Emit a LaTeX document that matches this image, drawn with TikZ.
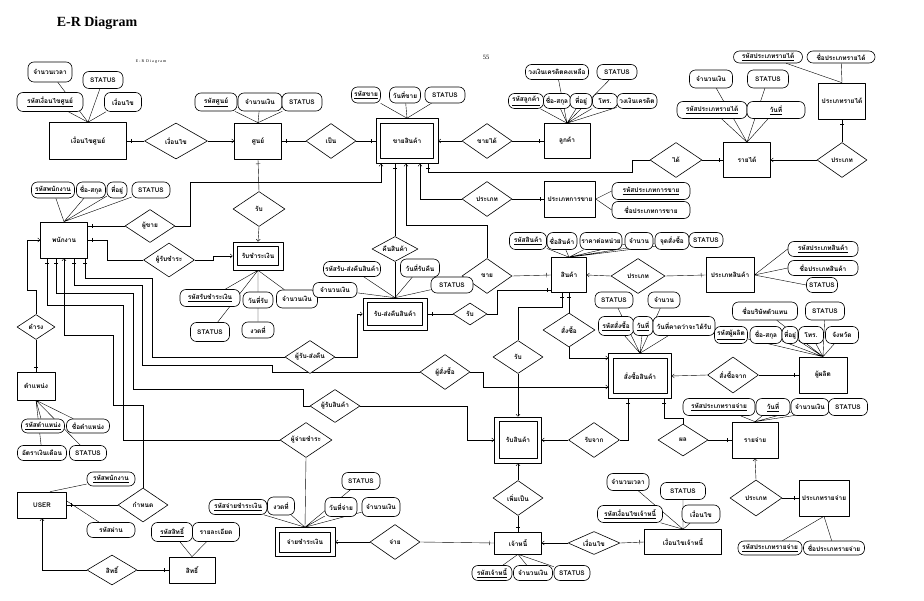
\documentclass[tikz,border=0pt]{standalone}
\usepackage{fontspec}
\usetikzlibrary{shapes.geometric,arrows.meta,decorations.markings}
\newfontfamily\thaifont[Script=Thai]{Loma}
\newfontfamily\titlefont{Liberation Serif}
\newcommand{\erfont}{\thaifont\bfseries\fontsize{6.5}{7}\selectfont}
\newcommand{\rlab}[1]{\makebox[0pt]{#1}}
\newcommand{\key}[1]{\underline{#1}}
\newcommand{\weakin}[1]{\draw ([shift={(5pt,5pt)}]#1.south west) rectangle ([shift={(-5pt,-5pt)}]#1.north east);}
\pgfdeclarelayer{lines}
\pgfsetlayers{lines,main}
\tikzset{
  ent/.style 2 args={draw,fill=white,rectangle,minimum width=#1pt,minimum height=#2pt,inner sep=1pt,font=\erfont},
  attr/.style 2 args={draw,fill=white,rounded corners=6pt,minimum width=#1pt,minimum height=#2pt,inner sep=1pt,font=\erfont},
  rel/.style 2 args={draw,fill=white,diamond,minimum width=#1pt,minimum height=#2pt,inner sep=0pt,font=\erfont},
  tk/.style={postaction={decorate,decoration={markings,mark=at position 1 with {\draw (-4.5pt,-2.2pt) -- (-4.5pt,2.2pt);}}}},
  ar/.style={-{Straight Barb[length=2.2pt,width=4pt]}},
}
\begin{document}
\begin{tikzpicture}[x=1pt,y=-1pt,line width=0.6pt,line cap=round,line join=round]
  \useasboundingbox (0,0) rectangle (924,601);
  % heading
  \node[font=\titlefont\bfseries\fontsize{14}{16}\selectfont] (title) at (97,23) {E-R Diagram};
  \node[font=\titlefont\fontsize{4}{5}\selectfont] (subtitle) at (151,62) {E - R \ D i a g r a m};
  \node[font=\titlefont\fontsize{6.5}{7}\selectfont] (pageno) at (486,57) {55};

  % entities
  \node[ent={77}{37}] (condC) at (88,141) {เงื่อนไขศูนย์};
  \node[ent={47}{36}] (center) at (258,141) {ศูนย์};
  \node[ent={62}{45}] (sale) at (407,141) {ขายสินค้า};
  \node[ent={46}{35}] (cust) at (567,141) {ลูกค้า};
  \node[ent={47}{35}] (income) at (747,160) {รายได้};
  \node[ent={47}{36}] (inctype) at (842,101) {ประเภทรายได้};
  \node[ent={51}{36}] (saletype) at (570,199) {ประเภทการขาย};
  \node[ent={47}{36}] (emp) at (64,240) {พนักงาน};
  \node[ent={50}{28}] (pay) at (258,256) {รับชำระเงิน};
  \node[ent={38}{28}] (pos) at (36,386) {ตำแหน่ง};
  \node[ent={49}{26}] (user) at (42,505) {USER};
  \node[ent={46}{26}] (perm) at (192,570) {สิทธิ์};
  \node[ent={64}{32}] (ret) at (395,314) {รับ-ส่งคืนสินค้า};
  \node[ent={35}{35}] (prod) at (569,275) {สินค้า};
  \node[ent={48}{35}] (prodtype) at (730,275) {ประเภทสินค้า};
  \node[ent={63}{45}] (order) at (640,376) {สั่งซื้อสินค้า};
  \node[ent={48}{36}] (supp) at (823,375) {ผู้ผลิต};
  \node[ent={47}{46}] (recv) at (518,440) {รับสินค้า};
  \node[ent={47}{22}] (cred) at (518,543) {เจ้าหนี้};
  \node[ent={77}{25}] (condCr) at (683,542) {เงื่อนไขเจ้าหนี้};
  \node[ent={60}{29}] (paid) at (305,542) {จ่ายชำระเงิน};
  \node[ent={46}{36}] (exp) at (755,440) {รายจ่าย};
  \node[ent={50}{36}] (exptype) at (824,498) {ประเภทรายจ่าย};
  % weak entities: inner frame
  \weakin{sale}
  \weakin{pay}
  \weakin{ret}
  \weakin{order}
  \weakin{recv}
  \weakin{paid}

  % relationships
  \node[rel={63}{36}] (rCond) at (176,141) {\rlab{เงื่อนไข}};
  \node[rel={50}{35}] (rIs) at (331,141) {\rlab{เป็น}};
  \node[rel={50}{35}] (rSold) at (487,141) {\rlab{ขายได้}};
  \node[rel={52}{35}] (rGot) at (676,160) {\rlab{ได้}};
  \node[rel={50}{35}] (rIncType) at (842,160) {\rlab{ประเภท}};
  \node[rel={50}{35}] (rSaleType) at (487,199) {\rlab{ประเภท}};
  \node[rel={50}{33}] (rSeller) at (150,226) {\rlab{ผู้ขาย}};
  \node[rel={52}{35}] (rRecvC) at (259,209) {\rlab{รับ}};
  \node[rel={51}{34}] (rPayer) at (169,260) {\rlab{ผู้รับชำระ}};
  \node[rel={38}{25}] (rHold) at (36,327) {\rlab{ดำรง}};
  \node[rel={50}{34}] (rAssign) at (143,505) {\rlab{กำหนด}};
  \node[rel={50}{30}] (rRight) at (112,570) {\rlab{สิทธิ์}};
  \node[rel={46}{25}] (rReturn) at (395,249) {\rlab{คืนสินค้า}};
  \node[rel={50}{33}] (rRetBy) at (310,357) {\rlab{ผู้รับ-ส่งคืน}};
  \node[rel={34}{22}] (rRetPro) at (470,314) {\rlab{รับ}};
  \node[rel={50}{35}] (rSell) at (487,276) {\rlab{ขาย}};
  \node[rel={54}{35}] (rProdType) at (638,276) {\rlab{ประเภท}};
  \node[rel={52}{34}] (rOrd) at (569,330) {\rlab{สั่งซื้อ}};
  \node[rel={50}{33}] (rRecvP) at (518,357) {\rlab{รับ}};
  \node[rel={50}{35}] (rOrdBy) at (445,372) {\rlab{ผู้สั่งซื้อ}};
  \node[rel={51}{36}] (rOrdFrom) at (733,375) {\rlab{สั่งซื้อจาก}};
  \node[rel={50}{33}] (rRecvBy) at (335,406) {\rlab{ผู้รับสินค้า}};
  \node[rel={52}{35}] (rPayBy) at (306,440) {\rlab{ผู้จ่ายชำระ}};
  \node[rel={51}{35}] (rRecvFrom) at (594,440) {\rlab{รับจาก}};
  \node[rel={50}{35}] (rBecome) at (518,498) {\rlab{เพิ่มเป็น}};
  \node[rel={52}{23}] (rCondCr) at (594,543) {\rlab{เงื่อนไข}};
  \node[rel={50}{35}] (rPayTo) at (395,542) {\rlab{จ่าย}};
  \node[rel={50}{32}] (rExp) at (683,440) {\rlab{ผล}};
  \node[rel={52}{36}] (rExpType) at (756,498) {\rlab{ประเภท}};

  % attributes
  \node[attr={44}{20}] (cTime) at (50,72) {จำนวนเวลา};
  \node[attr={40}{17}] (cStat) at (103,80) {STATUS};
  \node[attr={66}{19}] (cId) at (50,102) {\key{รหัสเงื่อนไขศูนย์}};
  \node[attr={37}{19}] (cCond) at (123,102) {เงื่อนไข};
  \node[attr={42}{18}] (nId) at (216,102) {\key{รหัสศูนย์}};
  \node[attr={44}{18}] (nAmt) at (260,102) {จำนวนเงิน};
  \node[attr={40}{18}] (nStat) at (302,102) {STATUS};
  \node[attr={29}{16}] (sId) at (366,95) {\key{รหัสขาย}};
  \node[attr={31}{16}] (sDate) at (405,95) {วันที่ขาย};
  \node[attr={40}{16}] (sStat) at (445,95) {STATUS};
  \node[attr={63}{15}] (uLeft) at (557,72) {วงเงินเครดิตคงเหลือ};
  \node[attr={40}{15}] (uStat) at (617,72) {STATUS};
  \node[attr={35}{15}] (uId) at (526,101) {\key{รหัสลูกค้า}};
  \node[attr={27}{15}] (uName) at (557,101) {ชื่อ-สกุล};
  \node[attr={22}{15}] (uAddr) at (581,101) {ที่อยู่};
  \node[attr={25}{15}] (uTel) at (605,101) {โทร.};
  \node[attr={40}{15}] (uLimit) at (637,101) {วงเงินเครดิต};
  \node[attr={43}{18}] (iAmt) at (711,79) {จำนวนเงิน};
  \node[attr={41}{18}] (iStat) at (768,79) {STATUS};
  \node[attr={70}{17}] (iType) at (712,110) {\key{รหัสประเภทรายได้}};
  \node[attr={58}{17}] (iDate) at (776,110) {\key{วันที่}};
  \node[attr={69}{12}] (tId) at (768,57) {\key{รหัสประเภทรายได้}};
  \node[attr={68}{12}] (tName) at (841,57) {ชื่อประเภทรายได้};
  \node[attr={78}{17}] (yId) at (651,191) {\key{รหัสประเภทการขาย}};
  \node[attr={78}{17}] (yName) at (651,210) {ชื่อประเภทการขาย};
  \node[attr={43}{16}] (eId) at (53,190) {\key{รหัสพนักงาน}};
  \node[attr={29}{16}] (eName) at (91,190) {ชื่อ-สกุล};
  \node[attr={20}{16}] (eAddr) at (117,190) {ที่อยู่};
  \node[attr={38}{16}] (eStat) at (151,190) {STATUS};
  \node[attr={60}{17}] (pId) at (210,298) {\key{รหัสรับชำระเงิน}};
  \node[attr={30}{16}] (pDate) at (258,300) {วันที่รับ};
  \node[attr={41}{18}] (pAmt) at (297,299) {จำนวนเงิน};
  \node[attr={39}{19}] (pStat) at (210,332) {STATUS};
  \node[attr={32}{16}] (pTerm) at (258,330) {งวดที่};
  \node[attr={43}{14}] (oId) at (43,426) {\key{รหัสตำแหน่ง}};
  \node[attr={43}{14}] (oName) at (88,426) {ชื่อตำแหน่ง};
  \node[attr={49}{15}] (oSal) at (42,453) {อัตราเงินเดือน};
  \node[attr={37}{15}] (oStat) at (88,453) {STATUS};
  \node[attr={48}{14}] (usEmp) at (111,479) {\key{รหัสพนักงาน}};
  \node[attr={48}{15}] (usPass) at (111,530) {รหัสผ่าน};
  \node[attr={41}{19}] (mId) at (172,532) {\key{รหัสสิทธิ์}};
  \node[attr={47}{19}] (mDesc) at (216,532) {รายละเอียด};
  \node[attr={57}{15}] (rId) at (352,269) {รหัสรับ-ส่งคืนสินค้า};
  \node[attr={39}{18}] (rDate) at (420,268) {วันที่รับคืน};
  \node[attr={42}{16}] (rStat) at (452,285) {STATUS};
  \node[attr={44}{15}] (rAmt) at (335,290) {จำนวนเงิน};
  \node[attr={37}{17}] (dId) at (528,241) {\key{รหัสสินค้า}};
  \node[attr={30}{17}] (dName) at (562,241) {ชื่อสินค้า};
  \node[attr={42}{17}] (dPrice) at (601,241) {ราคาต่อหน่วย};
  \node[attr={28}{17}] (dQty) at (639,241) {จำนวน};
  \node[attr={34}{17}] (dPoint) at (672,241) {จุดสั่งซื้อ};
  \node[attr={34}{15}] (dStat) at (706,240) {STATUS};
  \node[attr={70}{15}] (ptId) at (823,249) {\key{รหัสประเภทสินค้า}};
  \node[attr={70}{15}] (ptName) at (823,268) {ชื่อประเภทสินค้า};
  \node[attr={31}{15}] (ptStat) at (822,285) {STATUS};
  \node[attr={38}{16}] (ordStat) at (614,300) {STATUS};
  \node[attr={32}{16}] (ordQty) at (664,300) {จำนวน};
  \node[attr={35}{19}] (ordId) at (616,326) {\key{รหัสสั่งซื้อ}};
  \node[attr={20}{19}] (ordDate) at (643,326) {\key{วันที่}};
  \node[attr={62}{19}] (ordDue) at (684,326) {วันที่คาดว่าจะได้รับ};
  \node[attr={65}{18}] (spCo) at (765,311) {ชื่อบริษัทตัวแทน};
  \node[attr={39}{18}] (spStat) at (825,311) {STATUS};
  \node[attr={33}{17}] (spId) at (731,335) {\key{รหัสผู้ผลิต}};
  \node[attr={32}{17}] (spName) at (766,335) {ชื่อ-สกุล};
  \node[attr={16}{17}] (spAddr) at (790,335) {ที่อยู่};
  \node[attr={25}{17}] (spTel) at (811,335) {โทร.};
  \node[attr={33}{17}] (spProv) at (842,335) {จังหวัด};
  \node[attr={40}{15}] (crId) at (492,573) {\key{รหัสเจ้าหนี้}};
  \node[attr={39}{15}] (crAmt) at (533,573) {จำนวนเงิน};
  \node[attr={36}{15}] (crStat) at (572,573) {STATUS};
  \node[attr={42}{17}] (ccTime) at (628,482) {จำนวนเวลา};
  \node[attr={45}{17}] (ccStat) at (683,491) {STATUS};
  \node[attr={65}{17}] (ccId) at (630,514) {\key{รหัสเงื่อนไขเจ้าหนี้}};
  \node[attr={38}{18}] (ccCond) at (701,514) {เงื่อนไข};
  \node[attr={58}{15}] (pdId) at (238,507) {\key{รหัสจ่ายชำระเงิน}};
  \node[attr={27}{18}] (pdTerm) at (281,506) {งวดที่};
  \node[attr={38}{17}] (pdStat) at (361,481) {STATUS};
  \node[attr={32}{19}] (pdDate) at (341,507) {วันที่จ่าย};
  \node[attr={38}{19}] (pdAmt) at (381,507) {จำนวนเงิน};
  \node[attr={72}{17}] (xType) at (719,407) {\key{รหัสประเภทรายจ่าย}};
  \node[attr={34}{17}] (xDate) at (773,407) {\key{วันที่}};
  \node[attr={38}{17}] (xAmt) at (810,407) {จำนวนเงิน};
  \node[attr={39}{17}] (xStat) at (848,407) {STATUS};
  \node[attr={64}{14}] (xtId) at (770,548) {\key{รหัสประเภทรายจ่าย}};
  \node[attr={61}{14}] (xtName) at (834,548) {ชื่อประเภทรายจ่าย};

  \begin{pgfonlayer}{lines}
    % attribute links
    \draw (cTime) -- (condC.north) (cStat) -- (condC.north) (cId) -- (condC.north) (cCond) -- (condC.north);
    \draw (nId) -- (center.north) (nAmt) -- (center.north) (nStat) -- (center.north);
    \draw (sId) -- (sale.north) (sDate) -- (sale.north) (sStat) -- (sale.north);
    \draw (uLeft) -- (cust.north) (uStat) -- (cust.north) (uId) -- (cust.north) (uName) -- (cust.north)
          (uAddr) -- (cust.north) (uTel) -- (cust.north) (uLimit) -- (cust.north);
    \draw (iAmt) -- (income.north) (iStat) -- (income.north) (iType) -- (income.north) (iDate) -- (income.north);
    \draw (tId) -- (inctype.north) (tName) -- (inctype.north);
    \draw (saletype.east) -- (yId.west) (saletype.east) -- (yName.west);
    \draw (eId) -- (emp.north) (eName) -- (emp.north) (eAddr) -- (emp.north) (eStat) -- (emp.north);
    \draw (pId) -- (pay.south) (pDate) -- (pay.south) (pAmt) -- (pay.south) (pStat) -- (pay.south) (pTerm) -- (pay.south);
    \draw (oId) -- (pos.south) (oName) -- (pos.south) (oSal) -- (pos.south) (oStat) -- (pos.south);
    \draw (usEmp) -- ([xshift=8pt]user.north) (usPass) -- ([yshift=4pt]user.east);
    \draw (mId) -- (perm.north) (mDesc) -- (perm.north);
    \draw (rId) -- (ret.north) (rDate) -- (ret.north) (rStat) -- (ret.north) (rAmt) -- (ret.north);
    \draw (dId) -- (prod.north) (dName) -- (prod.north) (dPrice) -- (prod.north) (dQty) -- (prod.north)
          (dPoint) -- (prod.north) (dStat) -- (prod.north);
    \draw (prodtype.east) -- (ptId.west) (prodtype.east) -- (ptName.west) (prodtype.east) -- (ptStat.west);
    \draw (ordStat) -- (order.north) (ordQty) -- (order.north) (ordId) -- (order.north) (ordDate) -- (order.north) (ordDue) -- (order.north);
    \draw (spCo) -- (supp.north) (spStat) -- (supp.north) (spId) -- (supp.north) (spName) -- (supp.north)
          (spAddr) -- (supp.north) (spTel) -- (supp.north) (spProv) -- (supp.north);
    \draw (crId) -- (cred.south) (crAmt) -- (cred.south) (crStat) -- (cred.south);
    \draw (ccTime) -- (condCr.north) (ccStat) -- (condCr.north) (ccId) -- (condCr.north) (ccCond) -- (condCr.north);
    \draw (pdId) -- (paid.north) (pdTerm) -- (paid.north) (pdStat) -- (paid.north) (pdDate) -- (paid.north) (pdAmt) -- (paid.north);
    \draw (xType) -- (exp.north) (xDate) -- (exp.north) (xAmt) -- (exp.north) (xStat) -- (exp.north);
    \draw (xtId) -- (exptype.south) (xtName) -- (exptype.south);

    % relationship links
    \draw[tk] (rCond.west) -- (condC.east);
    \draw[ar] (rCond.east) -- (center.west);
    \draw[tk] (rIs.west) -- (center.east);
    \draw[tk] (rIs.east) -- (sale.west);
    \draw[ar] (rSold.west) -- (sale.east);
    \draw[tk] (rSold.east) -- (cust.west);
    \draw[tk] (rGot.west) -- (632,160) -- (632,172) -| ([xshift=21pt]sale.south);
    \draw[tk] (rGot.east) -- (income.west);
    \draw[ar] (rIncType.west) -- (income.east);
    \draw[tk] (rIncType.north) -- (inctype.south);
    \draw[ar] (rSaleType.west) -| ([xshift=13pt]sale.south);
    \draw[tk] (rSaleType.east) -- (saletype.west);
    \draw[ar] (rSell.north) -- (487,225) -| ([xshift=-1pt]sale.south);
    \draw[tk] (rSell.east) -- (prod.west);
    \draw[tk] (rReturn.north) -- (rReturn.north |- sale.south);
    \draw (rReturn.south) -- (ret.north);
    \draw[ar] (rSeller.east) -| (190,182) -| ([xshift=-26pt]sale.south);
    \draw[tk] (rSeller.west) -- (rSeller.west -| emp.east);
    \draw[tk] (rRecvC.north) -- (center.south);
    \draw[ar] (rRecvC.south) -- (pay.north);
    \draw[tk] (rPayer.west) -| (107,240) -- (emp.east);
    \draw[ar] (rPayer.east) -- (213,260) |- (pay.west);
    \draw[ar] (rHold.north) -- (36,290) -| (27,240) -- (emp.west);
    \draw[tk] (rHold.south) -- (pos.north);
    \draw[tk] (rAssign.west) -- (user.east);
    \draw[ar] (rAssign.north) -- (143,405) -- (113,405) -- (113,335) -| (emp.south);
    \draw[ar] (rRight.west) -| (user.south);
    \draw[tk] (rRight.east) -- (perm.west);
    \draw[tk] (rPayBy.west) -| (123,305) -| ([xshift=-17pt]emp.south);
    \draw (rPayBy.south) -- (paid.north);
    \draw[tk] (rRecvBy.west) -- (303,406) |- (133,389) -- (133,293) -| ([xshift=-8pt]emp.south);
    \draw[ar] (rRecvBy.east) -- (467,406) |- (recv.west);
    \draw[tk] (rOrdBy.west) -- (272,372) |- (142,365) -- (142,285) -| ([xshift=10pt]emp.south);
    \draw[ar] (rOrdBy.east) -- (483,372) |- ([yshift=-11pt]order.west);
    \draw[tk] (rRetBy.west) -| (152,278) -| ([xshift=21pt]emp.south);
    \draw[ar] (rRetBy.east) -- (357,357) |- (ret.west);
    \draw[tk] (rRetPro.west) -- (ret.east);
    \draw[tk] (rRetPro.east) -- (497,314) |- ([yshift=-15pt]prod.west);
    \draw[tk] (rRecvP.north) -- (518,307) -| ([xshift=-7pt]prod.south);
    \draw[ar] (rRecvP.south) -- (recv.north);
    \draw[tk] (rOrd.north) -- (rOrd.north |- prod.south);
    \draw[ar] (rOrd.south) |- ([yshift=18pt]order.west);
    \draw[ar] (rProdType.west) -- (prod.east);
    \draw[tk] (rProdType.east) -- (prodtype.west);
    \draw[ar] (rOrdFrom.west) -- (order.east);
    \draw[tk] (rOrdFrom.east) -- (supp.west);
    \draw[tk] (rRecvFrom.east) -| ([xshift=-12pt]order.south);
    \draw[ar] (rRecvFrom.west) -- (recv.east);
    \draw[tk] (rExp.north) -- (683,418) -| ([xshift=24pt]order.south);
    \draw[tk] (rExp.east) -- (exp.west);
    \draw[ar] (rExpType.north) -- (exp.south);
    \draw[tk] (rExpType.east) -- (exptype.west);
    \draw[ar] (rBecome.north) -- (recv.south);
    \draw[tk] (rBecome.south) -- (cred.north);
    \draw[ar] (rCondCr.west) -- (cred.east);
    \draw[tk] (rCondCr.east) -- (condCr.west);
    \draw[ar] (rPayTo.west) -- (paid.east);
    \draw[tk] (rPayTo.east) -- (cred.west);
  \end{pgfonlayer}
\end{tikzpicture}
\end{document}
